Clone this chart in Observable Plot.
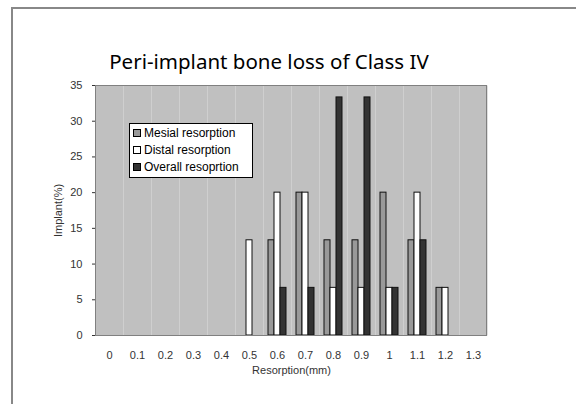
<!DOCTYPE html>
<html>
<head>
<meta charset="utf-8">
<script src="https://cdn.jsdelivr.net/npm/d3@7"></script>
<script src="https://cdn.jsdelivr.net/npm/@observablehq/plot@0.6"></script>
<style>
  html, body { margin: 0; padding: 0; background: #fff; }
  #wrap { position: relative; width: 576px; height: 404px; overflow: hidden; background: #fff; }
  #wrap svg.chart { position: absolute; left: 0; top: 0; }
  #outer { position: absolute; left: 11px; top: 7px; width: 600px; height: 420px;
           border-left: 2px solid #888; border-top: 2px solid #888; box-sizing: border-box; }
  #title { position: absolute; left: 0; width: 538px; text-align: center; top: 47px;
           font-family: "Noto Sans", sans-serif; font-size: 20.5px; line-height: 28px; color: #000; }
  #legend { position: absolute; left: 129px; top: 123px; width: 122px; padding: 1px 0;
            background: #fff; border: 1px solid #000; font-family: "Liberation Sans", Arial, sans-serif;
            font-size: 12px; color: #000; }
  #legend .row { height: 17px; line-height: 17px; white-space: nowrap; padding-left: 3px; }
  #legend .sw { display: inline-block; width: 6px; height: 6px; border: 1px solid #000; margin-right: 3px; vertical-align: 0px; }
  #border { position: absolute; pointer-events: none; border: 1px solid #808080; box-sizing: border-box; }
</style>
</head>
<body>
<div id="wrap">
  <div id="outer"></div>
  <div id="title"></div>
</div>
<script>
const titleText = "Peri-implant bone loss of Class IV";
const xLabel = "Resorption(mm)";
const yLabel = "Implant(%)";
const categories = ["0","0.1","0.2","0.3","0.4","0.5","0.6","0.7","0.8","0.9","1","1.1","1.2","1.3"];
const series = ["Mesial resorption", "Distal resorption", "Overall resoprtion"];
const colors = ["#999999", "#ffffff", "#333333"];
const yTicks = [0, 5, 10, 15, 20, 25, 30, 35];
const mesial  = [0, 0, 0, 0, 0, 0,     13.33, 20,   13.33, 13.33, 20,   13.33, 6.67, 0];
const distal  = [0, 0, 0, 0, 0, 13.33, 20,    20,   6.67,  6.67,  6.67, 20,    6.67, 0];
const overall = [0, 0, 0, 0, 0, 0,     6.67,  6.67, 33.33, 33.33, 6.67, 13.33, 0,    0];

const values = [mesial, distal, overall];
const table = [];
categories.forEach((c, i) => {
  series.forEach((s, j) => {
    if (values[j][i] > 0) table.push({cat: c, series: s, value: values[j][i]});
  });
});
const catRows = categories.map(c => ({cat: c}));

const W = 576, H = 404;
const mL = 95, mR = 89, mT = 85, mB = 69;

const chart = Plot.plot({
  width: W, height: H,
  marginLeft: mL, marginRight: mR, marginTop: mT, marginBottom: mB,
  style: {fontFamily: "Liberation Sans, Arial, sans-serif", fontSize: "11px", color: "#333", background: "transparent", overflow: "visible"},
  fx: {domain: categories, padding: 0, label: xLabel, labelAnchor: "center", labelOffset: 38, tickSize: 0, tickPadding: 16, labelArrow: "none"},
  x: {domain: series, paddingInner: 0, paddingOuter: 0.75, axis: null},
  y: {domain: [0, 35], ticks: yTicks, tickSize: 3, tickPadding: 10, label: yLabel, labelAnchor: "center", labelOffset: 41, labelArrow: "none"},
  color: {domain: series, range: colors},
  marks: [
    Plot.frame({fill: "#c0c0c0", stroke: "none"}),
    Plot.ruleY(catRows, {fx: "cat", y: () => 0, stroke: "#808080"}),
    Plot.barY(table, {fx: "cat", x: "series", y: "value", fill: "series", stroke: "#111", strokeWidth: 1})
  ]
});
chart.classList.add("chart");
const wrap = document.getElementById("wrap");
wrap.insertBefore(chart, document.getElementById("outer"));

document.getElementById("title").textContent = titleText;

const border = document.createElement("div");
border.id = "border";
border.style.left = mL + "px";
border.style.top = mT + "px";
border.style.width = (W - mL - mR) + "px";
border.style.height = (H - mT - mB + 1) + "px";
wrap.appendChild(border);

const legend = document.createElement("div");
legend.id = "legend";
series.forEach((s, j) => {
  const row = document.createElement("div");
  row.className = "row";
  const sw = document.createElement("span");
  sw.className = "sw";
  sw.style.background = colors[j];
  row.appendChild(sw);
  row.appendChild(document.createTextNode(s));
  legend.appendChild(row);
});
wrap.appendChild(legend);
</script>
</body>
</html>
